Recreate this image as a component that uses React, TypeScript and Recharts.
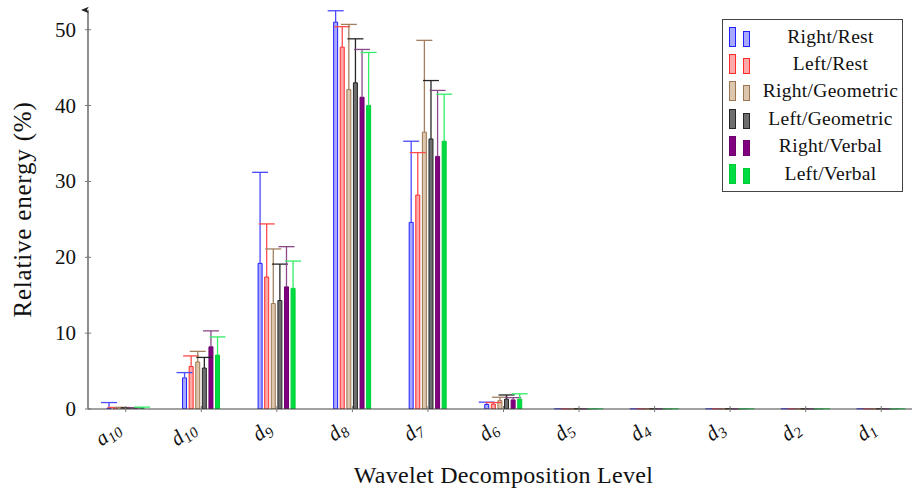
import { BarChart, Bar, XAxis, YAxis, ErrorBar } from "recharts";

const levels = ["a10", "d10", "d9", "d8", "d7", "d6", "d5", "d4", "d3", "d2", "d1"];

const rightRest = [0.1, 4.1, 19.2, 51.0, 24.6, 0.6, 0.02, 0.02, 0.02, 0.02, 0.02];
const rightRestErr = [0.75, 0.7, 12.0, 1.5, 10.7, 0.3, 0.01, 0.01, 0.01, 0.01, 0.01];
const leftRest = [0.15, 5.6, 17.4, 47.7, 28.2, 0.65, 0.02, 0.02, 0.02, 0.02, 0.02];
const leftRestErr = [0.05, 1.4, 7.0, 2.7, 5.6, 0.2, 0.01, 0.01, 0.01, 0.01, 0.01];
const rightGeo = [0.15, 6.2, 13.9, 42.1, 36.5, 1.1, 0.02, 0.02, 0.02, 0.02, 0.02];
const rightGeoErr = [0.05, 1.4, 7.2, 8.6, 12.1, 0.45, 0.01, 0.01, 0.01, 0.01, 0.01];
const leftGeo = [0.1, 5.4, 14.3, 43.0, 35.6, 1.3, 0.02, 0.02, 0.02, 0.02, 0.02];
const leftGeoErr = [0.05, 1.4, 4.8, 5.8, 7.7, 0.55, 0.01, 0.01, 0.01, 0.01, 0.01];
const rightVerbal = [0.1, 8.2, 16.1, 41.1, 33.3, 1.2, 0.02, 0.02, 0.02, 0.02, 0.02];
const rightVerbalErr = [0.05, 2.1, 5.3, 6.3, 8.7, 0.3, 0.01, 0.01, 0.01, 0.01, 0.01];
const leftVerbal = [0.15, 7.1, 15.9, 40.0, 35.3, 1.3, 0.02, 0.02, 0.02, 0.02, 0.02];
const leftVerbalErr = [0.1, 2.4, 3.6, 7.0, 6.2, 0.7, 0.01, 0.01, 0.01, 0.01, 0.01];

const yTicks = [0, 10, 20, 30, 40, 50];

const SERIES = [
  { key: "rr", name: "Right/Rest", values: rightRest, err: rightRestErr, stroke: "#2020ff", fill: "#a8a8ff", errColor: "#4a4aff" },
  { key: "lr", name: "Left/Rest", values: leftRest, err: leftRestErr, stroke: "#ff2a2a", fill: "#ffa8a8", errColor: "#ff4a4a" },
  { key: "rg", name: "Right/Geometric", values: rightGeo, err: rightGeoErr, stroke: "#9c7650", fill: "#dcc7ae", errColor: "#a08060" },
  { key: "lg", name: "Left/Geometric", values: leftGeo, err: leftGeoErr, stroke: "#262626", fill: "#6e6e6e", errColor: "#262626" },
  { key: "rv", name: "Right/Verbal", values: rightVerbal, err: rightVerbalErr, stroke: "#6c006c", fill: "#800080", errColor: "#8a4a8a" },
  { key: "lv", name: "Left/Verbal", values: leftVerbal, err: leftVerbalErr, stroke: "#00cc33", fill: "#00dd44", errColor: "#33ee66" },
];

const data = levels.map((lvl, i) => {
  const row: Record<string, any> = { level: lvl };
  SERIES.forEach((s) => {
    row[s.key] = s.values[i];
    row[s.key + "Err"] = [0, s.err[i]];
  });
  return row;
});

const FONT = "'Liberation Serif', serif";
const AXIS = "#444";

const YTick = ({ x, y, payload }: any) => (
  <g>
    <line x1={x - 3} x2={x + 3} y1={y} y2={y} stroke="#777" />
    <text x={x - 12} y={y} dy={7} textAnchor="end" fontFamily={FONT} fontSize={21} fill="#111">
      {payload.value}
    </text>
  </g>
);

// rotated label, letter + subscript, ending just left of the tick
const XTick = ({ x, y, payload }: any) => {
  const v: string = payload.value;
  const cx = x - 4;
  const cy = y + 22;
  return (
    <g>
      <line x1={x} x2={x} y1={y - 3} y2={y + 3} stroke="#777" />
      <text
        x={cx}
        y={cy}
        transform={`rotate(-38, ${cx}, ${cy})`}
        textAnchor="end"
        fontFamily={FONT}
        fontStyle="italic"
        fontSize={21}
        fill="#111"
      >
        {v[0]}
        <tspan fontSize={15} dy={4}>
          {v.slice(1)}
        </tspan>
      </text>
    </g>
  );
};

const LegendBox = () => (
  <div
    style={{
      position: "absolute",
      left: 722,
      top: 19,
      width: 181,
      height: 173,
      border: "1.5px solid #444",
      background: "#fff",
      fontFamily: FONT,
      paddingTop: 3,
      boxSizing: "border-box",
    }}
  >
    {SERIES.map((s) => (
      <div key={s.key} style={{ display: "flex", alignItems: "center", height: 27.4 }}>
        <svg width={34} height={22} style={{ flex: "none", marginLeft: 4 }}>
          <rect x={2.5} y={1.5} width={6} height={19} fill={s.fill} stroke={s.stroke} />
          <rect x={16.5} y={5.5} width={6} height={15} fill={s.fill} stroke={s.stroke} />
        </svg>
        <div style={{ flex: 1, textAlign: "center", fontSize: 19.5, letterSpacing: 0.3, lineHeight: "22px", color: "#111", marginRight: 2 }}>
          {s.name}
        </div>
      </div>
    ))}
  </div>
);

export default function App() {
  return (
    <div style={{ position: "absolute", left: 0, top: 0, width: 912, height: 490, background: "#fff" }}>
      <style>{`.recharts-errorBar line:nth-of-type(3){display:none}`}</style>
      <svg width={0} height={0} style={{ position: "absolute" }}>
        <defs>
          <marker id="yarrow" viewBox="0 0 10 10" refX={5} refY={9} markerWidth={8} markerHeight={8} markerUnits="userSpaceOnUse" orient="auto-start-reverse">
            <path d="M5,0 L9,10 L5,7.5 L1,10 Z" fill="#222" />
          </marker>
        </defs>
      </svg>
      <BarChart
        width={912}
        height={490}
        data={data}
        margin={{ top: 10, right: -7, bottom: 0, left: 0 }}
        barSize={4}
        barGap={2.6}
      >
        <XAxis
          dataKey="level"
          height={81}
          tickSize={0}
          tickMargin={0}
          tickLine={false}
          interval={0}
          tick={<XTick />}
          axisLine={{ stroke: AXIS, strokeWidth: 1.2 }}
          label={{
            value: "Wavelet Decomposition Level",
            position: "insideBottom",
            offset: 7,
            style: { fontFamily: FONT, fontSize: 24, letterSpacing: 0.3, fill: "#111" },
          }}
        />
        <YAxis
          width={88}
          domain={[0, 52.6]}
          allowDataOverflow
          ticks={yTicks}
          tickSize={0}
          tickMargin={0}
          tickLine={false}
          tick={<YTick />}
          axisLine={{ stroke: AXIS, strokeWidth: 1.2, markerStart: "url(#yarrow)" }}
          label={{
            value: "Relative energy (%)",
            angle: -90,
            position: "insideLeft",
            offset: 22,
            style: { fontFamily: FONT, fontSize: 25, letterSpacing: 0.8, fill: "#111", textAnchor: "middle" },
          }}
        />
        {SERIES.map((s) => (
          <Bar
            key={s.key}
            dataKey={s.key}
            name={s.name}
            fill={s.fill}
            stroke={s.stroke}
            strokeWidth={1}
            isAnimationActive={false}
          >
            <ErrorBar dataKey={s.key + "Err"} direction="y" width={8} stroke={s.errColor} strokeWidth={1.3} />
          </Bar>
        ))}
      </BarChart>
      <LegendBox />
    </div>
  );
}
